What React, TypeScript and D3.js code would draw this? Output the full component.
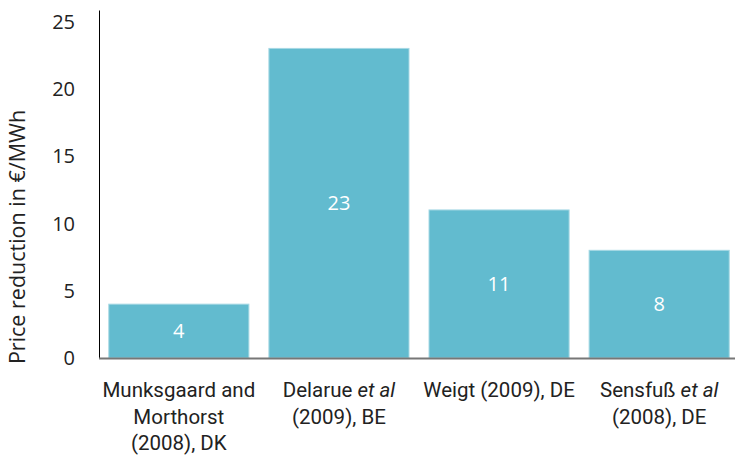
import React from 'react';
import * as d3 from 'd3';

const WIDTH = 735;
const HEIGHT = 458;

const studies = ['munksgaard', 'delarue', 'weigt', 'sensfuss'];
// label lines per study; [text, italic] parts
const studyLabels: [string, boolean][][][] = [
    [[['Munksgaard and', false]], [['Morthorst', false]], [['(2008), DK', false]]],
    [[['Delarue ', false], ['et al', true]], [['(2009), BE', false]]],
    [[['Weigt (2009), DE', false]]],
    [[['Sensfuß ', false], ['et al', true]], [['(2008), DE', false]]],
];
const priceReduction = [4, 23, 11, 8];
const yTicks = [0, 5, 10, 15, 20, 25];

const BAR_COLOR = '#62bbcf';
const LABEL_FONT = 'Roboto, sans-serif';
const TICK_FONT = '"Open Sans", Lato, sans-serif';

const App = () => {
    const x = d3.scaleBand<string>()
        .domain(studies)
        .range([99.5, 738.5])
        .paddingInner(0.125)
        .paddingOuter(0.058);

    const y = d3.scaleLinear()
        .domain([0, 25])
        .range([358, 21.5]);

    return (
        <svg width={WIDTH} height={HEIGHT}
            style={{ position: 'absolute', left: 0, top: 0, background: '#fff' }}>

            {/* bars */}
            {studies.map((s, i) => (
                <g key={s}>
                    <rect
                        x={x(s)}
                        y={y(priceReduction[i])}
                        width={x.bandwidth()}
                        height={y(0) - y(priceReduction[i])}
                        fill={BAR_COLOR}
                        stroke="#a6d8e4"
                        strokeWidth={1} />
                    <text
                        x={(x(s) ?? 0) + x.bandwidth() / 2}
                        y={(y(priceReduction[i]) + y(0)) / 2}
                        dy="0.36em"
                        textAnchor="middle"
                        fill="#fff"
                        fontFamily={TICK_FONT}
                        fontSize={20}>
                        {priceReduction[i]}
                    </text>
                </g>
            ))}

            {/* y axis */}
            <line x1={99.5} x2={99.5} y1={y(25) - 11} y2={y(0)} stroke="#000" strokeWidth={1} />
            {yTicks.map(t => (
                <text key={t}
                    x={75}
                    y={y(t)}
                    dy="0.36em"
                    textAnchor="end"
                    fill="#222"
                    fontFamily={TICK_FONT}
                    fontSize={20}>
                    {t}
                </text>
            ))}
            <text
                transform={`translate(25, 237) rotate(-90)`}
                textAnchor="middle"
                fill="#222"
                fontFamily={TICK_FONT}
                fontSize={21.5}>
                Price reduction in €/MWh
            </text>

            {/* x axis baseline */}
            <line x1={99} x2={WIDTH} y1={y(0) + 0.5} y2={y(0) + 0.5} stroke="#777" strokeWidth={2} />

            {/* category labels */}
            {studies.map((s, i) => (
                <text key={s}
                    x={(x(s) ?? 0) + x.bandwidth() / 2}
                    textAnchor="middle"
                    fill="#222"
                    fontFamily={LABEL_FONT}
                    fontSize={20.5}>
                    {studyLabels[i].map((parts, li) => (
                        <tspan key={li} x={(x(s) ?? 0) + x.bandwidth() / 2} y={397 + li * 26.5}>
                            {parts.map(([txt, it], pi) => (
                                <tspan key={pi} fontStyle={it ? 'italic' : 'normal'}>{txt}</tspan>
                            ))}
                        </tspan>
                    ))}
                </text>
            ))}
        </svg>
    );
};

export default App;
